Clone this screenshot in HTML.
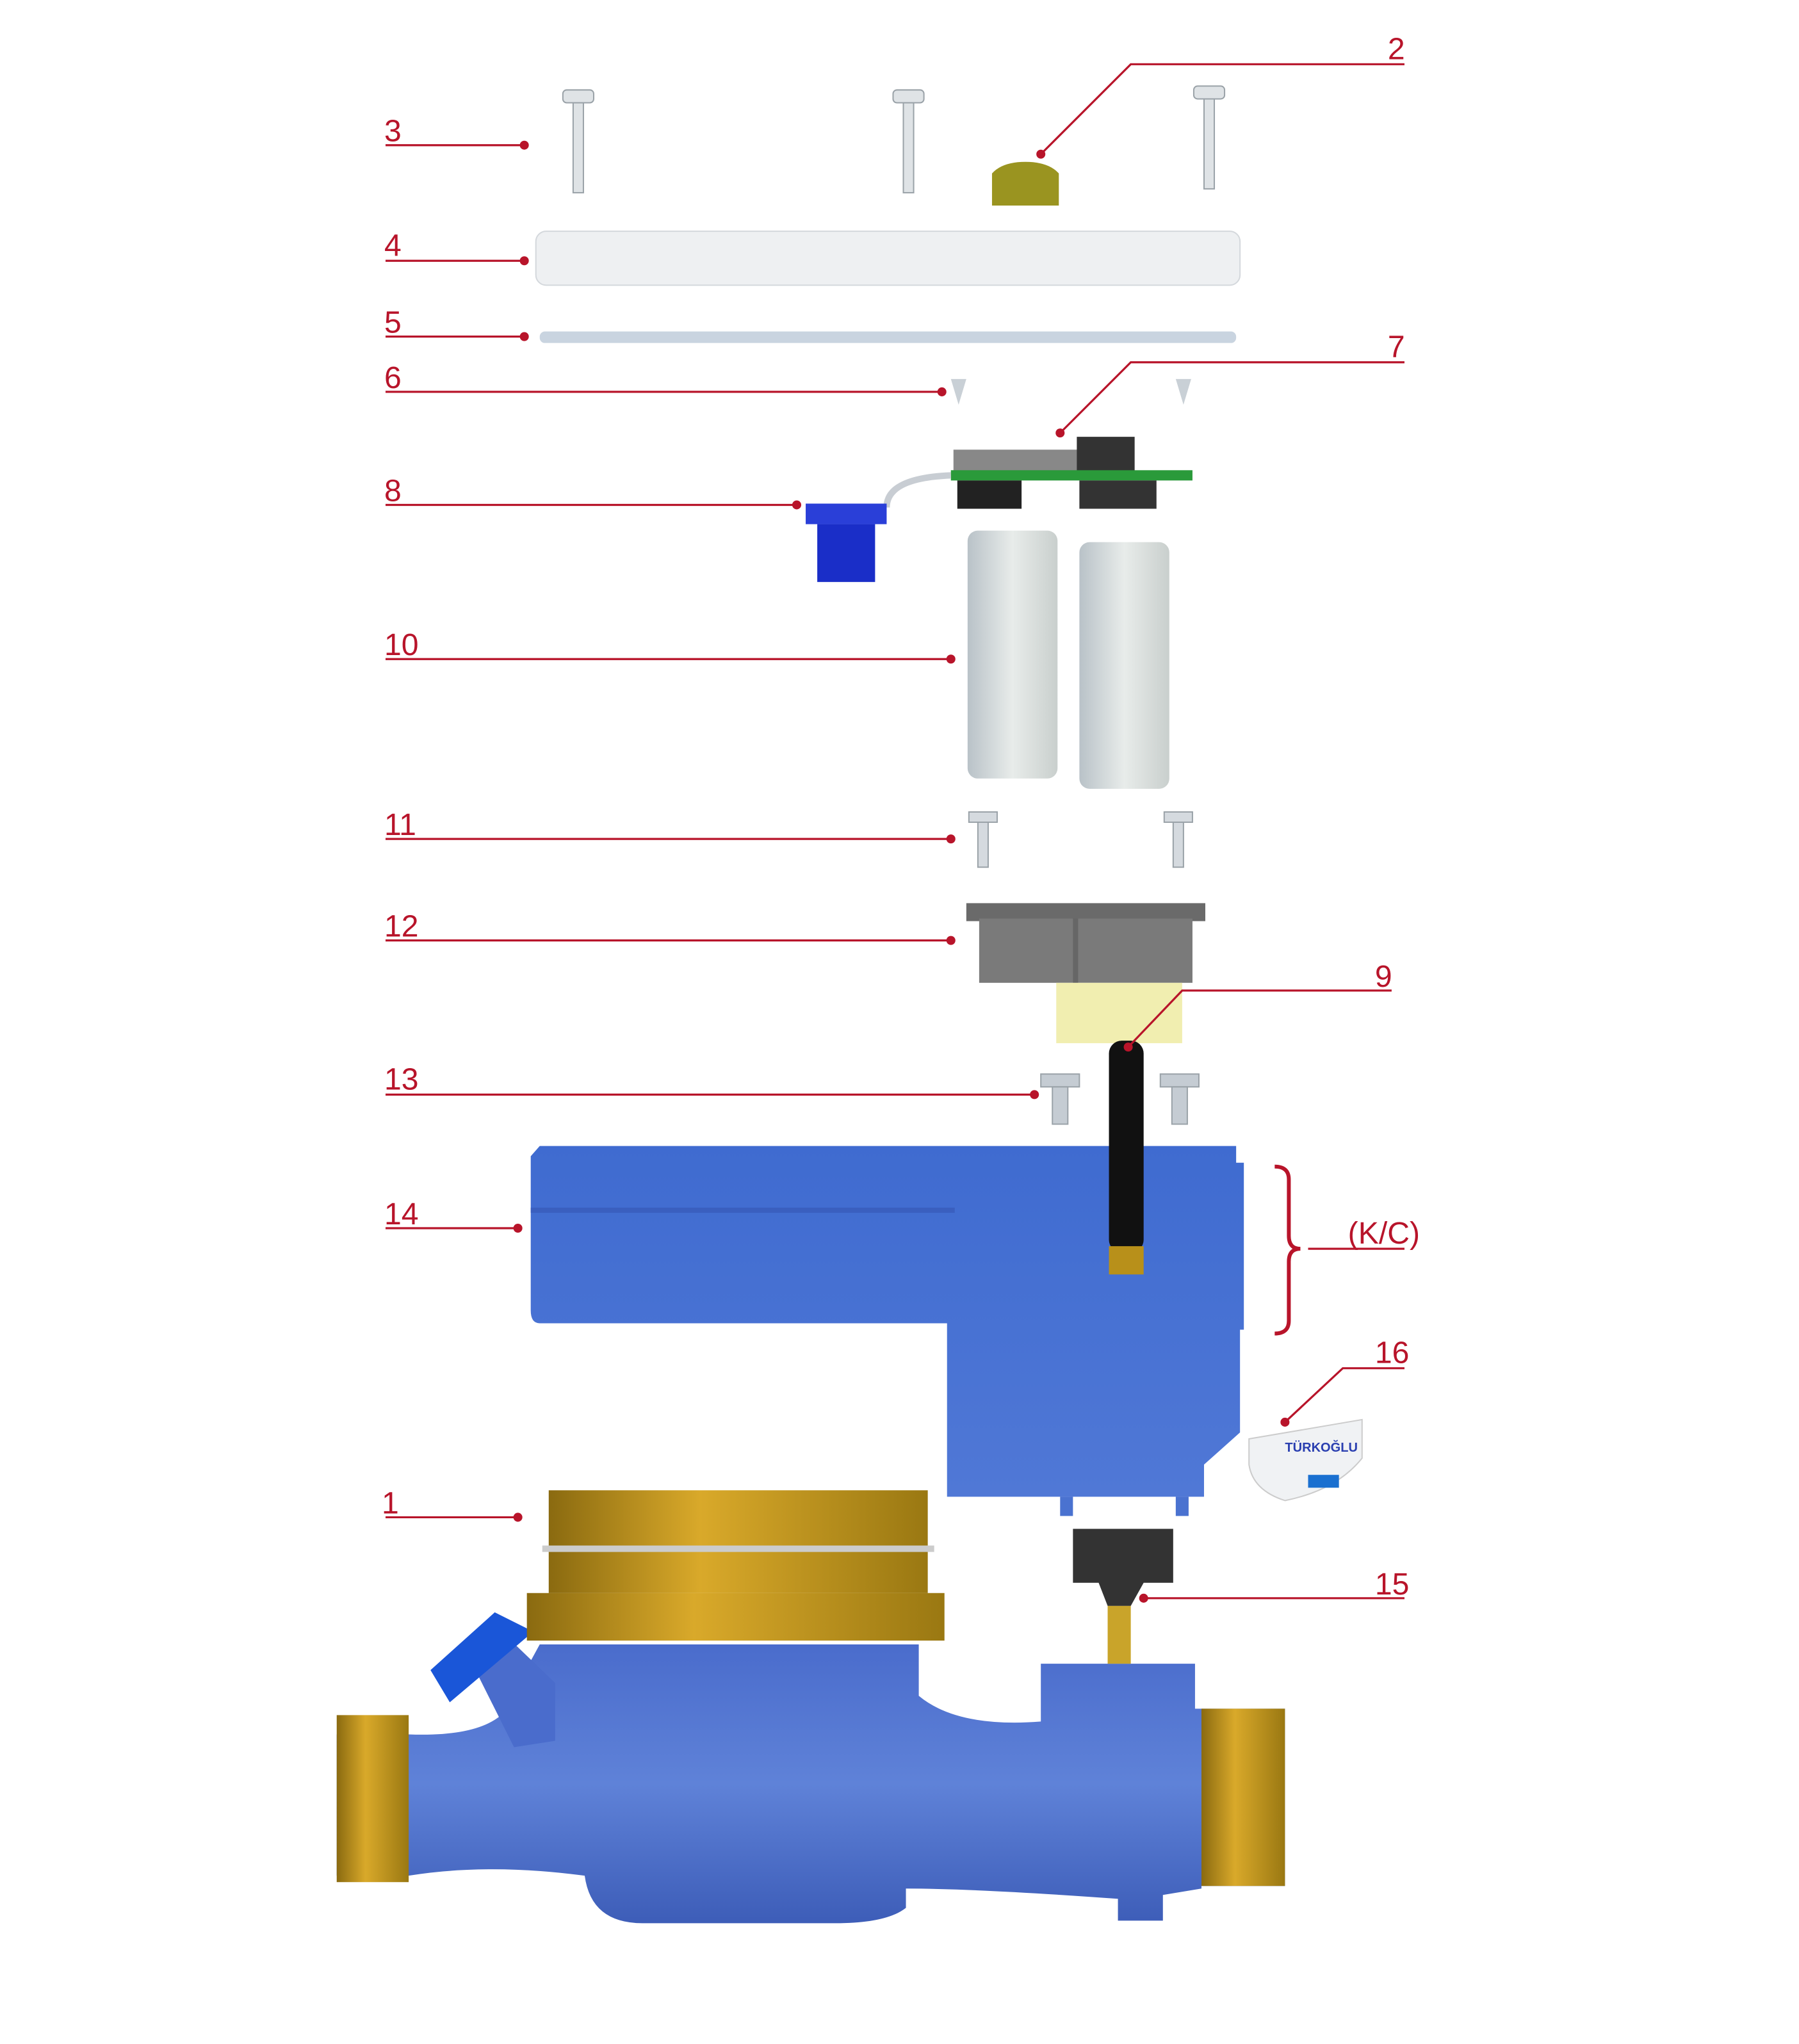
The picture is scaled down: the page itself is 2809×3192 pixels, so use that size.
<!DOCTYPE html>
<html><head><meta charset="utf-8"><style>
html,body{margin:0;padding:0;background:#fff;}
svg{display:block;}
text{font-family:"Liberation Sans",sans-serif;fill:#b8142a;font-size:24px;}
</style></head><body>
<svg width="2809" height="3192" viewBox="0 0 1400 1591" xmlns="http://www.w3.org/2000/svg">
<defs>
<linearGradient id="bat" x1="0" x2="1"><stop offset="0" stop-color="#b9c2c8"/><stop offset="0.5" stop-color="#e8ecea"/><stop offset="1" stop-color="#c9cfcd"/></linearGradient>
<linearGradient id="brass" x1="0" x2="1"><stop offset="0" stop-color="#8a6a10"/><stop offset="0.4" stop-color="#d9a92a"/><stop offset="1" stop-color="#9a7812"/></linearGradient>
<linearGradient id="blue" x1="0" y1="0" x2="0" y2="1"><stop offset="0" stop-color="#3f6bd0"/><stop offset="1" stop-color="#5078d6"/></linearGradient>
<linearGradient id="pipe" x1="0" y1="0" x2="0" y2="1"><stop offset="0" stop-color="#4a6ccc"/><stop offset="0.5" stop-color="#5f82d8"/><stop offset="1" stop-color="#3d5db8"/></linearGradient>
</defs>
<!-- screws 3 -->
<g fill="#dfe3e6" stroke="#9aa2a8" stroke-width="1">
<rect x="438" y="70" width="24" height="10" rx="3"/><rect x="446" y="80" width="8" height="70"/>
<rect x="695" y="70" width="24" height="10" rx="3"/><rect x="703" y="80" width="8" height="70"/>
<rect x="929" y="67" width="24" height="10" rx="3"/><rect x="937" y="77" width="8" height="70"/>
</g>
<path d="M772 160V135Q780 126 798 126Q816 126 824 135V160Z" fill="#9a9420"/>
<rect x="417" y="180" width="548" height="42" rx="8" fill="#eef0f2" stroke="#d4d8dc"/>
<rect x="420" y="258" width="542" height="9" rx="4" fill="#c9d4e0"/>
<path d="M740 295H752L746 315Z M915 295H927L921 315Z" fill="#c9d0d6"/>
<!-- PCB -->
<rect x="742" y="350" width="120" height="20" fill="#888"/><rect x="838" y="340" width="45" height="30" fill="#333"/>
<rect x="740" y="366" width="188" height="8" fill="#2a9a3a"/><rect x="745" y="374" width="50" height="22" fill="#222"/><rect x="840" y="374" width="60" height="22" fill="#333"/>
<path d="M690 395Q690 372 740 370" stroke="#c8cdd3" stroke-width="5" fill="none"/>
<rect x="627" y="392" width="63" height="16" fill="#2a3fd8"/><rect x="636" y="408" width="45" height="45" fill="#1a2ec8"/>
<rect x="753" y="413" width="70" height="193" rx="8" fill="url(#bat)"/><rect x="840" y="422" width="70" height="192" rx="8" fill="url(#bat)"/>
<g fill="#d5dadf" stroke="#9aa2a8"><rect x="754" y="632" width="22" height="8"/><rect x="761" y="640" width="8" height="35"/><rect x="906" y="632" width="22" height="8"/><rect x="913" y="640" width="8" height="35"/></g>
<rect x="752" y="703" width="186" height="14" fill="#6a6a6a"/><rect x="762" y="715" width="166" height="50" fill="#7a7a7a"/><rect x="835" y="715" width="4" height="50" fill="#666"/>
<rect x="822" y="765" width="98" height="47" fill="#f1eeb0"/>
<g fill="#c5ccd3" stroke="#9aa2a8"><rect x="810" y="836" width="30" height="10"/><rect x="819" y="846" width="12" height="29"/><rect x="903" y="836" width="30" height="10"/><rect x="912" y="846" width="12" height="29"/></g>
<!-- housing 14 -->
<path d="M420 892H962V905H968V1035H965V1115L937 1140V1165H737V1030H420Q413 1030 413 1020V900Z" fill="url(#blue)"/>
<rect x="413" y="940" width="330" height="4" fill="#3a5fbf"/>
<rect x="825" y="1165" width="10" height="15" fill="#4a72d0"/><rect x="915" y="1165" width="10" height="15" fill="#4a72d0"/>
<rect x="863" y="810" width="27" height="165" rx="10" fill="#111"/><rect x="863" y="970" width="27" height="22" fill="#b8901a"/>
<!-- 16 -->
<path d="M972 1120L1060 1105V1135Q1040 1160 1000 1168Q975 1160 972 1140Z" fill="#f0f2f4" stroke="#ccc"/>
<text x="1000" y="1130" style="font-size:10px;fill:#2a3fb0;font-weight:bold">TÜRKOĞLU</text>
<rect x="1018" y="1148" width="24" height="10" fill="#1a70d0"/>
<!-- body -->
<path d="M262 1350H318Q370 1352 390 1335L420 1280H715V1320Q745 1345 810 1340V1295H930V1330H1000V1468H935V1470L905 1475V1495H870V1478Q760 1470 705 1470V1485Q690 1497 650 1497H500Q460 1497 455 1460Q380 1450 318 1460H262Z" fill="url(#pipe)"/>
<rect x="262" y="1335" width="56" height="130" fill="url(#brass)"/><rect x="935" y="1330" width="65" height="138" fill="url(#brass)"/>
<path d="M380 1260L432 1310V1355L400 1360L365 1290Z" fill="#4a6ccc"/>
<path d="M335 1300L385 1255L415 1270L350 1325Z" fill="#1a56d8"/>
<rect x="427" y="1160" width="295" height="80" fill="url(#brass)"/>
<path d="M410 1240H735V1277H410Z" fill="url(#brass)"/><rect x="422" y="1203" width="305" height="5" fill="#ccc"/>
<path d="M835 1190H913V1232H890L880 1250H862L855 1232H835Z" fill="#333"/>
<rect x="862" y="1250" width="18" height="45" fill="#c9a42a"/>
<!-- leader lines on top -->
<g stroke="#b8142a" stroke-width="1.6" fill="none">
<path d="M300 113H408M300 203H408M300 262H408M300 305H733M300 393H620M300 513H740M300 653H740M300 732H740M300 852H805M300 956H403M300 1181H403"/>
<path d="M1093 50H880L810 120M1093 282H880L825 337M1083 771H920L878 815M1093 972H1018M1093 1065H1045L1000 1107M1093 1244H890"/>
<path d="M992 908Q1003 908 1003 918V962Q1003 972 1012 972Q1003 972 1003 982V1028Q1003 1038 992 1038" stroke-width="3"/>
</g>
<g fill="#b8142a">
<circle cx="408" cy="113" r="3.5"/><circle cx="408" cy="203" r="3.5"/><circle cx="408" cy="262" r="3.5"/><circle cx="733" cy="305" r="3.5"/><circle cx="620" cy="393" r="3.5"/><circle cx="740" cy="513" r="3.5"/><circle cx="740" cy="653" r="3.5"/><circle cx="740" cy="732" r="3.5"/><circle cx="805" cy="852" r="3.5"/><circle cx="403" cy="956" r="3.5"/><circle cx="403" cy="1181" r="3.5"/><circle cx="810" cy="120" r="3.5"/><circle cx="825" cy="337" r="3.5"/><circle cx="878" cy="815" r="3.5"/><circle cx="1000" cy="1107" r="3.5"/><circle cx="890" cy="1244" r="3.5"/>
</g>
<text x="299" y="110">3</text><text x="299" y="199">4</text><text x="299" y="259">5</text><text x="299" y="302">6</text><text x="299" y="390">8</text>
<text x="299" y="510">10</text><text x="299" y="650">11</text><text x="299" y="729">12</text><text x="299" y="848">13</text><text x="299" y="953">14</text><text x="297" y="1178">1</text>
<text x="1080" y="46">2</text><text x="1080" y="278">7</text><text x="1070" y="768">9</text><text x="1049" y="968">(K/C)</text><text x="1070" y="1061">16</text><text x="1070" y="1241">15</text>
</svg>
</body></html>
